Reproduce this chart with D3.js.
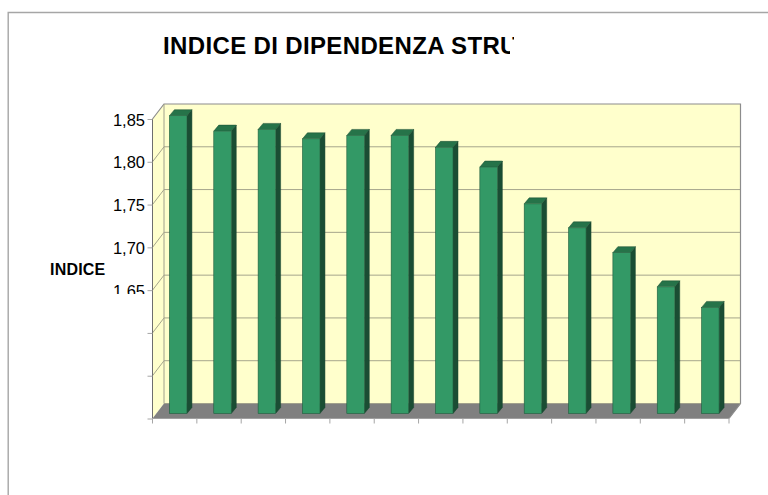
<!DOCTYPE html>
<html>
<head>
<meta charset="utf-8">
<script src="https://cdn.jsdelivr.net/npm/d3@7"></script>
<style>
html, body { margin: 0; padding: 0; background: #fff; overflow: hidden; }
text { font-family: "Liberation Sans", Arial, sans-serif; }
</style>
</head>
<body>
<script>
var categories = [1,2,3,4,5,6,7,8,9,10,11,12,13];
var indice = [1.848,1.830,1.832,1.821,1.825,1.825,1.811,1.788,1.745,1.717,1.688,1.648,1.624];
var yTicks = [1.50,1.55,1.60,1.65,1.70,1.75,1.80,1.85];
var yLabels = [1.65,1.70,1.75,1.80,1.85];

var w = 768, h = 495;
var dx = 11.5, dy = -15; // depth of the 3d box
var barDepthX = 5, barDepthY = 6;
var barShiftX = 3.5, barShiftY = -5;

var svg = d3.select("body").append("svg")
    .attr("width",w)
    .attr("height",h)
    .style("display","block")
    .style("background-color","white");

var x = d3.scaleBand().domain(categories).range([152.5,729]).paddingInner(0).paddingOuter(0);
var y = d3.scaleLinear().domain([1.5,1.85]).range([418.5,119]);
var barW = 17.5;

// outer frame, only top and left show
svg.append("path")
    .attr("d","M8.2,495V12.5H768")
    .attr("fill","none")
    .attr("stroke","#a6a6a6")
    .attr("stroke-width",1.4);

// clips for the cut labels
var defs = svg.append("defs");
defs.append("clipPath").attr("id","titleClip").append("path")
    .attr("d","M0,0H514V39.5H510V80H0Z");
defs.append("clipPath").attr("id","labelClip").append("rect")
    .attr("x",0).attr("y",100).attr("width",150).attr("height",194);

svg.append("text")
    .attr("x",163)
    .attr("y",53.5)
    .attr("clip-path","url(#titleClip)")
    .style("font-size","24px")
    .style("font-weight","bold")
    .style("letter-spacing","0.36px")
    .text("INDICE DI DIPENDENZA STRUTTURALE");

svg.append("text")
    .attr("x",50)
    .attr("y",275)
    .style("font-size","16px")
    .style("font-weight","bold")
    .style("letter-spacing","0.2px")
    .text("INDICE");

var x0 = x.range()[0], x1 = x.range()[1];
var yTop = y(1.85), yBot = y(1.5);

// back wall
svg.append("rect")
    .attr("x",x0+dx).attr("y",yTop+dy)
    .attr("width",x1-x0).attr("height",yBot-yTop)
    .attr("fill","#ffffcc");
// side wall
svg.append("path")
    .attr("d",d3.line()([[x0,yTop],[x0+dx,yTop+dy],[x0+dx,yBot+dy],[x0,yBot]]))
    .attr("fill","#ffffcc");
// floor
svg.append("path")
    .attr("d",d3.line()([[x0,yBot],[x0+dx,yBot+dy],[x1+dx,yBot+dy],[x1,yBot]]))
    .attr("fill","#808080");

// gridlines
svg.selectAll(".grid").data(yTicks.slice(1,-1)).enter().append("path")
    .attr("class","grid")
    .attr("d",function(d){
        return "M"+x0+","+y(d)+"L"+(x0+dx)+","+(y(d)+dy)+"H"+(x1+dx);
    })
    .attr("fill","none")
    .attr("stroke","#a6a68c");

// wall outlines
svg.append("path")
    .attr("d","M"+x0+","+yTop+"L"+(x0+dx)+","+(yTop+dy)+"H"+(x1+dx)+"V"+(yBot+dy)+"L"+x1+","+yBot)
    .attr("fill","none")
    .attr("stroke","#8c8c8c")
    .attr("stroke-width",1.2);
svg.append("path")
    .attr("d","M"+(x0+dx)+","+(yTop+dy)+"V"+(yBot+dy)+"H"+(x1+dx))
    .attr("fill","none")
    .attr("stroke","#a0a08c");

// bars
function barX(d){ return x(d)+(x.bandwidth()-barW)/2+barShiftX; }
function barY(v){ return y(v)+barShiftY; }
var floorY = yBot+barShiftY;

var bars = svg.selectAll(".bar").data(categories).enter().append("g").attr("class","bar");
bars.append("path")
    .attr("d",function(d,i){
        var a = barX(d)+barW, t = barY(indice[i]);
        return d3.line()([[a,t],[a+barDepthX,t-barDepthY],[a+barDepthX,floorY-barDepthY],[a,floorY]]);
    })
    .attr("fill","#1a4d33")
    .attr("stroke","#17452e")
    .attr("stroke-width",0.5);
bars.append("path")
    .attr("d",function(d,i){
        var a = barX(d), t = barY(indice[i]);
        return d3.line()([[a,t],[a+barDepthX,t-barDepthY],[a+barW+barDepthX,t-barDepthY],[a+barW,t]]);
    })
    .attr("fill","#267349")
    .attr("stroke","#1a4d33")
    .attr("stroke-width",0.5);
bars.append("rect")
    .attr("x",function(d){ return barX(d); })
    .attr("y",function(d,i){ return barY(indice[i]); })
    .attr("width",barW)
    .attr("height",function(d,i){ return floorY-barY(indice[i]); })
    .attr("fill","#339966")
    .attr("stroke","#1f5c3d")
    .attr("stroke-width",0.6);

// axes
var yAxis = d3.axisLeft(y).tickValues(yTicks).tickSize(5).tickFormat("");
svg.append("g")
    .attr("transform","translate("+x0+",0)")
    .call(yAxis)
    .call(function(g){
        g.select(".domain").attr("stroke","#6e6e6e").attr("d","M0,"+yTop+"V"+yBot);
        g.selectAll("line").attr("stroke","#a6a6a6");
    });

var xAxis = d3.axisBottom(x).tickSize(5).tickFormat("");
svg.append("g")
    .attr("transform","translate(0,"+yBot+")")
    .call(xAxis)
    .call(function(g){
        g.select(".domain").attr("stroke","#a0a0a0").attr("stroke-width",1.2).attr("d","M"+x0+",0H"+x1);
        g.selectAll(".tick").attr("transform",function(d){ return "translate("+x(d)+",0)"; });
        g.selectAll("line").attr("stroke","#a6a6a6");
        g.append("line").attr("x1",x1).attr("x2",x1).attr("y2",5).attr("stroke","#a6a6a6");
    });

var fmt = function(v){ return v.toFixed(2).replace(".",","); };
svg.append("g").attr("clip-path","url(#labelClip)")
    .selectAll("text").data(yLabels).enter().append("text")
    .attr("x",145)
    .attr("y",function(d){ return y(d)+6.5; })
    .attr("text-anchor","end")
    .style("font-size","16.5px")
    .text(fmt);
</script>
</body>
</html>
